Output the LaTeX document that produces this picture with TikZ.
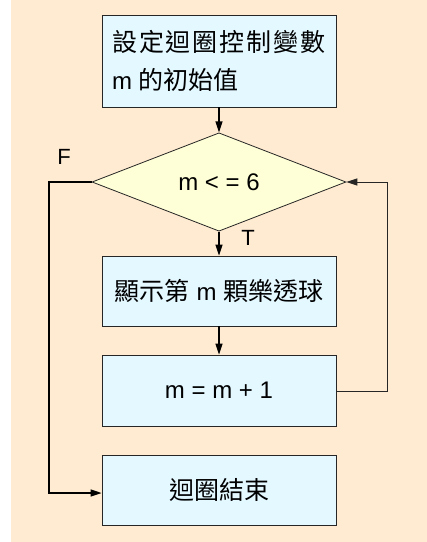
\documentclass[tikz,border=0pt]{standalone}
\usepackage{fontspec}
\setmainfont{Liberation Sans}
\newfontfamily\cjk{Noto Sans CJK TC}
\usetikzlibrary{shapes.geometric,arrows.meta}
\newcommand\zh[1]{{\cjk\fontsize{25}{38}\selectfont #1}}
\newcommand\zhs[1]{{\cjk\fontsize{25}{38}\selectfont\addfontfeature{LetterSpace=8}#1}}
\definecolor{bgc}{HTML}{FFEBD1}
\definecolor{boxc}{HTML}{E3F8FF}
\definecolor{diac}{HTML}{FFFFD7}
\definecolor{edgec}{HTML}{262626}
\tikzset{
  procbox/.style={draw=edgec, line width=0.8pt, fill=boxc, rectangle, minimum width=234pt, inner sep=0pt,
    font=\fontsize{24}{38}\selectfont},
  decbox/.style={draw=edgec, line width=0.8pt, fill=diac, diamond, minimum width=254pt, minimum height=90pt,
    inner sep=0pt, font=\fontsize{24}{28}\selectfont},
  flow/.style={line width=1.3pt, black, -{Triangle[length=11pt,width=7pt]}},
  loopline/.style={line width=1pt, edgec, -{Triangle[length=11pt,width=7pt]}},
  lbl/.style={font=\fontsize{22}{26}\selectfont, inner sep=0pt}
}
\begin{document}
\begin{tikzpicture}[x=1pt,y=-1pt]
\useasboundingbox (0,0) rectangle (427,542);
\fill[bgc] (11,0) rectangle (427,542);
\node[procbox, minimum height=92pt, align=left] (b1) at (219,61)
  {\zhs{設定迴圈控制變數}\\m \zh{的初始值}};
\node[decbox] (d) at (219,182) {m < = 6};
\node[procbox, minimum height=70pt] (b2) at (219,291) {\zh{顯示第} m \zh{顆樂透球}};
\node[procbox, minimum height=71pt] (b3) at (219,390.5) {m = m + 1};
\node[procbox, minimum height=70pt] (b4) at (219,490) {\zh{迴圈結束}};
\coordinate (R) at (387,391);
\coordinate (L) at (49,493);
\draw[flow] (b1.south) -- (d.north);
\draw[flow] (d.south) -- (b2.north);
\draw[flow] (b2.south) -- (b3.north);
\draw[loopline] (b3.east |- R) -- (R) |- (d.east);
\draw[flow] (d.west) -| (L) -- (b4.west |- L);
\node[lbl] (F) at (64,157) {F};
\node[lbl] (T) at (248,238) {T};
\end{tikzpicture}
\end{document}
